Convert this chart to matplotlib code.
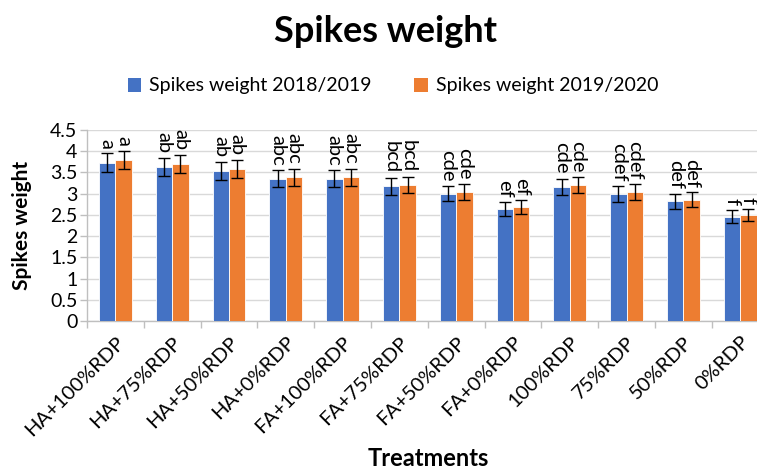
import matplotlib
matplotlib.use("Agg")
import matplotlib.pyplot as plt
from matplotlib.patches import Patch
import numpy as np

plt.rcParams['font.family'] = ['Lato', 'DejaVu Sans']

treatments = ['HA+100%RDP', 'HA+75%RDP', 'HA+50%RDP', 'HA+0%RDP', 'FA+100%RDP',
              'FA+75%RDP', 'FA+50%RDP', 'FA+0%RDP', '100%RDP', '75%RDP', '50%RDP', '0%RDP']
weight_2018 = [3.73, 3.63, 3.54, 3.35, 3.35, 3.17, 3.00, 2.64, 3.16, 2.99, 2.82, 2.46]
weight_2019 = [3.79, 3.70, 3.59, 3.39, 3.39, 3.20, 3.04, 2.68, 3.20, 3.04, 2.86, 2.50]
err_2018 = [0.22, 0.21, 0.21, 0.20, 0.20, 0.19, 0.18, 0.16, 0.19, 0.18, 0.17, 0.15]
err_2019 = [0.22, 0.22, 0.21, 0.20, 0.20, 0.19, 0.18, 0.16, 0.19, 0.18, 0.17, 0.15]
letters_2018 = ['a', 'ab', 'ab', 'abc', 'abc', 'bcd', 'cde', 'ef', 'cde', 'cdef', 'def', 'f']
letters_2019 = ['a', 'ab', 'ab', 'abc', 'abc', 'bcd', 'cde', 'ef', 'cde', 'cdef', 'def', 'f']
series_names = ['Spikes weight 2018/2019', 'Spikes weight 2019/2020']
colors = ['#4472C4', '#ED7D31']

W, H = 757, 471
fig = plt.figure(figsize=(W / 100, H / 100), dpi=100)
ax = fig.add_axes([87 / W, (H - 321) / H, 681.6 / W, 191 / H])

x = np.arange(len(treatments))
bw = 0.29
grid_c = '#d9d9d9'
for vals, errs, labs, col, off in [(weight_2018, err_2018, letters_2018, colors[0], -bw / 2),
                                    (weight_2019, err_2019, letters_2019, colors[1], bw / 2)]:
    ax.bar(x + off, vals, width=bw, color=col, edgecolor='white', linewidth=0.6, zorder=3)
    ax.errorbar(x + off, vals, yerr=errs, fmt='none', ecolor='black', elinewidth=1,
                capsize=4, capthick=1, zorder=4)
    for xi, v, e, lab in zip(x + off, vals, errs, labs):
        ax.annotate(lab, (xi, v + e), xytext=(0, 3.5), textcoords='offset points',
                    rotation=-90, ha='center', va='bottom', fontsize=14.5, zorder=5,
                    annotation_clip=False)

ax.set_xlim(-0.5, len(treatments) - 0.5)
ax.set_ylim(0, 4.5)
ax.set_yticks(np.arange(0, 4.51, 0.5))
ax.set_yticklabels(['0', '0.5', '1', '1.5', '2', '2.5', '3', '3.5', '4', '4.5'], fontsize=14)
ax.yaxis.grid(True, color=grid_c, linewidth=1, zorder=0)
ax.set_axisbelow(True)
ax.set_xticks(x)
ax.set_xticklabels(treatments, rotation=45, ha='right', rotation_mode='anchor', fontsize=14.5)
ax.tick_params(axis='x', length=0, pad=9)
ax.set_xticks(np.arange(-0.5, len(treatments), 1), minor=True)
ax.tick_params(axis='x', which='minor', length=5, color='#bfbfbf', width=1)
ax.tick_params(axis='y', length=5, color='#bfbfbf', width=1, pad=2)
for s in ['top', 'right']:
    ax.spines[s].set_visible(False)
for s in ['left', 'bottom']:
    ax.spines[s].set_color('#bfbfbf')
    ax.spines[s].set_linewidth(1)

fig.text(386 / W, 1 - 32 / H, 'Spikes weight', ha='center', va='center', fontsize=26, fontweight='bold')
fig.text(22 / W, 1 - 225 / H, 'Spikes weight', ha='center', va='center', rotation=90,
         fontsize=15, fontweight='bold')
fig.text(428 / W, 1 - 459 / H, 'Treatments', ha='center', va='center', fontsize=17, fontweight='bold')

handles = [Patch(facecolor=c, edgecolor='none') for c in colors]
fig.legend(handles, series_names, loc='center', bbox_to_anchor=(393 / W, 1 - 86 / H), ncol=2,
           frameon=False, fontsize=14, handlelength=0.7, handleheight=0.7, handletextpad=0.4,
           columnspacing=2.2)

fig.savefig('out.png', dpi=100)
